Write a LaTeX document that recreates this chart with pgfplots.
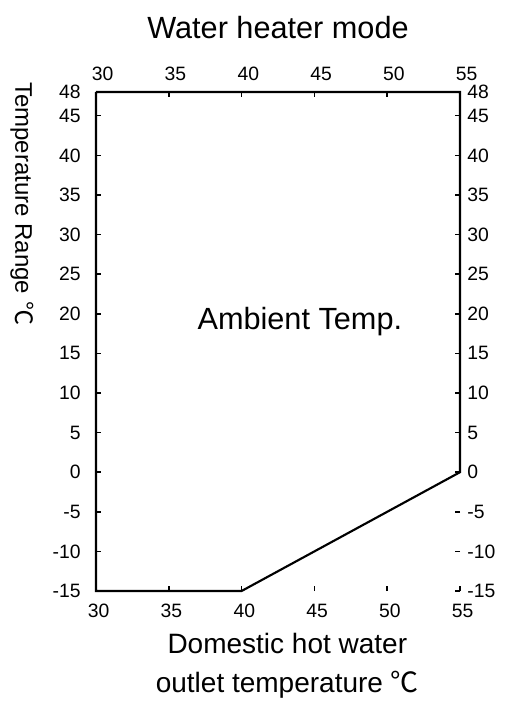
\documentclass[border=0pt]{standalone}
\usepackage{fontspec}
\setmainfont{Liberation Sans}
\newfontfamily\cjk{Noto Sans CJK SC}
\usepackage{pgfplots}
\pgfplotsset{compat=1.18}

\newcommand{\degC}{{\cjk ℃}}

\pgfplotsset{
  base/.style={
    scale only axis,
    width=273pt, height=374.25pt,
    xmin=30, xmax=55, ymin=-15, ymax=48,
    xtick={30,35,...,55},
    ytick={-15,-10,...,45,48},
    axis line style={draw=none},
    tick align=inside,
    major tick length=4pt,
    tick style={black, line width=1.1pt},
    tick label style={font=\fontsize{14.5}{16}\selectfont},
    /pgf/number format/assume math mode=true,
    clip=false,
  },
}

\begin{document}
\begin{tikzpicture}
\path[use as bounding box] (-72pt,-87pt) rectangle (309pt,443.25pt);

% left / bottom labels, ticks on all sides
\begin{axis}[base,
  tick pos=both,
  ticklabel pos=left,
  xticklabel style={yshift=-6pt, xshift=2pt},
  yticklabel style={xshift=-8pt},
]
\addplot[black, line width=1.6pt, line join=miter] coordinates {
  (30,48) (30,-15) (40,-15) (55,0) (55,48) (30,48)
};
\node[font=\fontsize{23}{27}\selectfont] at (axis cs:44,19) {Ambient Temp.};
\node[font=\fontsize{23}{27}\selectfont] at (rel axis cs:0.5,1) [yshift=48pt] {Water heater mode};
\node[font=\fontsize{21}{29}\selectfont, align=center, anchor=north] at (rel axis cs:0.5,0) [xshift=7pt, yshift=-28pt]
  {Domestic hot water\\outlet temperature \degC};
\node[xshift=-55.5pt, yshift=7.5pt, font=\fontsize{18}{20}\selectfont, rotate=-90, anchor=west, inner sep=0pt]
  at (rel axis cs:0,1) {Temperature Range \degC};
\end{axis}

% right / top labels only
\begin{axis}[base,
  tick pos=both,
  ticklabel pos=right,
  major tick length=0pt,
  xticklabel style={yshift=5pt, xshift=5pt},
  yticklabel style={xshift=2pt},
]
\addplot[draw=none] coordinates {(30,-15) (55,48)};
\end{axis}
\end{tikzpicture}
\end{document}
